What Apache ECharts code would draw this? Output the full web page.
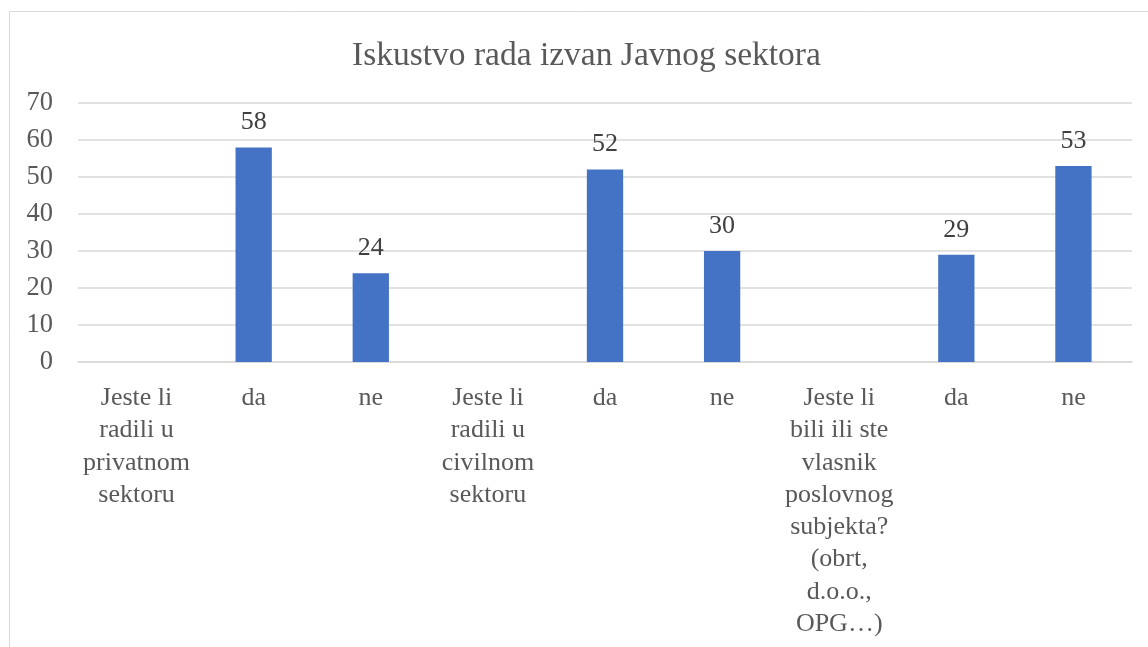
<!DOCTYPE html>
<html>
<head>
<meta charset="utf-8">
<script src="https://cdn.jsdelivr.net/npm/echarts@6/dist/echarts.min.js"></script>
<style>
html,body{margin:0;padding:0;background:#fff;}
#chart{width:1148px;height:647px;}
</style>
</head>
<body>
<div id="chart"></div>
<script>
const titleText = 'Iskustvo rada izvan Javnog sektora';
const categories = [
  'Jeste li\nradili u\nprivatnom\nsektoru',
  'da',
  'ne',
  'Jeste li\nradili u\ncivilnom\nsektoru',
  'da',
  'ne',
  'Jeste li\nbili ili ste\nvlasnik\nposlovnog\nsubjekta?\n(obrt,\nd.o.o.,\nOPG…)',
  'da',
  'ne'
];
const values = [null, 58, 24, null, 52, 30, null, 29, 53];
const yTicks = { min: 0, max: 70, interval: 10 };

const font = '"Liberation Serif", "Times New Roman", serif';
const chart = echarts.init(document.getElementById('chart'), null, { renderer: 'canvas' });
chart.setOption({
  animation: false,
  backgroundColor: '#ffffff',
  graphic: [{
    type: 'rect',
    shape: { x: 9.5, y: 11.5, width: 1300, height: 800 },
    style: { fill: 'none', stroke: '#d9d9d9', lineWidth: 1 },
    silent: true, z: -1
  }],
  title: {
    text: titleText,
    left: 347,
    top: 34,
    textStyle: { fontFamily: font, fontSize: 33.5, fontWeight: 'normal', color: '#595959' }
  },
  grid: { left: 78, right: 16, top: 103, bottom: 285, containLabel: false },
  xAxis: {
    type: 'category',
    data: categories,
    axisLine: { show: true, lineStyle: { color: '#d9d9d9', width: 1.5 } },
    axisTick: { show: false },
    axisLabel: {
      interval: 0,
      margin: 20,
      fontFamily: font,
      fontSize: 26,
      lineHeight: 32.3,
      color: '#595959',
      align: 'center'
    }
  },
  yAxis: {
    type: 'value',
    min: yTicks.min,
    max: yTicks.max,
    interval: yTicks.interval,
    axisLine: { show: false },
    axisTick: { show: false },
    splitLine: { lineStyle: { color: '#d9d9d9', width: 1.5 } },
    axisLabel: { fontFamily: font, fontSize: 26.5, color: '#595959', margin: 25 }
  },
  series: [{
    type: 'bar',
    data: values,
    barWidth: '31%',
    itemStyle: { color: '#4472c4' },
    label: {
      show: true,
      position: 'top',
      distance: 12,
      fontFamily: font,
      fontSize: 26,
      color: '#404040'
    }
  }]
});
</script>
</body>
</html>
